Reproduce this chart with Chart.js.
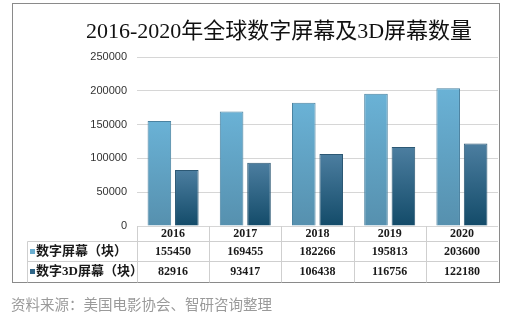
<!DOCTYPE html>
<html>
<head>
<meta charset="utf-8">
<script src="https://cdn.jsdelivr.net/npm/chart.js@4/dist/chart.umd.min.js"></script>
<style>
  html, body { margin: 0; padding: 0; background: #fff; }
  #wrap { position: relative; width: 516px; height: 322px; }
</style>
</head>
<body>
<div id="wrap"><canvas id="result" width="516" height="322"></canvas></div>
<script>
var years = ["2016", "2017", "2018", "2019", "2020"];
var screens = [155450, 169455, 182266, 195813, 203600];      // 数字屏幕（块）
var screens3d = [82916, 93417, 106438, 116756, 122180];     // 数字3D屏幕（块）
var seriesNames = ["数字屏幕（块）", "数字3D屏幕（块）"];
var yTicks = [0, 50000, 100000, 150000, 200000, 250000];

var titleText = "2016-2020年全球数字屏幕及3D屏幕数量";
var sourceText = "资料来源：美国电影协会、智研咨询整理";

// gradient per bar, from its top down to the baseline
function barGradient(top, bottom) {
    return function(context) {
        var chart = context.chart;
        if (!chart.chartArea) return top;
        var y = chart.scales.y;
        var g = chart.ctx.createLinearGradient(0, y.getPixelForValue(context.raw), 0, y.getPixelForValue(0));
        g.addColorStop(0, top);
        g.addColorStop(1, bottom);
        return g;
    };
}

var serif = "'Liberation Serif', 'Noto Sans CJK SC', serif";

// frame, title, data table and source line
var decorPlugin = {
    id: "decor",
    afterDraw: function(chart) {
        var ctx = chart.ctx;
        var area = chart.chartArea;
        var x = chart.scales.x;
        var colW = (area.right - area.left) / years.length;
        var rowTop = area.bottom, row1 = 241.5, row2 = 261.5, rowEnd = 282.5;
        ctx.save();

        // outer frame
        ctx.strokeStyle = "#8a8a8a";
        ctx.lineWidth = 1;
        ctx.strokeRect(12.5, 3.5, 487, 279);

        // title
        ctx.fillStyle = "#111";
        ctx.font = "22px " + serif;
        ctx.textAlign = "center";
        ctx.textBaseline = "alphabetic";
        ctx.fillText(titleText, 279, 38);

        // table grid
        ctx.strokeStyle = "#cfcfcf";
        ctx.beginPath();
        ctx.moveTo(27.5, row1); ctx.lineTo(area.right, row1);
        ctx.moveTo(27.5, row2); ctx.lineTo(area.right, row2);
        ctx.moveTo(27.5, row1); ctx.lineTo(27.5, rowEnd);
        for (var i = 0; i < years.length; i++) {
            var lx = Math.round(area.left + i * colW) + 0.5;
            ctx.moveTo(lx, rowTop); ctx.lineTo(lx, rowEnd);
        }
        ctx.stroke();

        // table text
        ctx.fillStyle = "#1a1a1a";
        ctx.textBaseline = "middle";
        ctx.font = "bold 12px " + serif;
        for (var j = 0; j < years.length; j++) {
            var cx = x.getPixelForValue(j);
            ctx.fillText(years[j], cx, 233.5);
            ctx.fillText(String(screens[j]), cx, 252);
            ctx.fillText(String(screens3d[j]), cx, 272);
        }

        // row labels with markers
        ctx.textAlign = "left";
        ctx.font = "bold 13px " + serif;
        ctx.fillText(seriesNames[0], 36, 252);
        ctx.fillText(seriesNames[1], 36, 272);
        ctx.fillStyle = "#6aaed0";
        ctx.fillRect(30, 249, 5, 5);
        ctx.fillStyle = "#2f6587";
        ctx.fillRect(30, 269, 5, 5);

        // source
        ctx.fillStyle = "#9a9a9a";
        ctx.font = "14.5px 'Noto Sans CJK SC', sans-serif";
        ctx.fillText(sourceText, 11, 304);
        ctx.restore();
    }
};

var ctx = document.getElementById("result").getContext("2d");
var chart = new Chart(ctx, {
    type: "bar",
    data: {
        labels: years,
        datasets: [{
            label: seriesNames[0],
            data: screens,
            backgroundColor: barGradient("#6ab2d6", "#5690ae"),
            borderColor: "#4a82a0",
            borderWidth: 1,
            categoryPercentage: 0.76,
            barPercentage: 0.86
        }, {
            label: seriesNames[1],
            data: screens3d,
            backgroundColor: barGradient("#4c7ea0", "#134b69"),
            borderColor: "#2c5874",
            borderWidth: 1,
            categoryPercentage: 0.76,
            barPercentage: 0.86
        }]
    },
    options: {
        responsive: false,
        animation: false,
        layout: { padding: { left: 12, right: 18, top: 57, bottom: 96 } },
        plugins: {
            legend: { display: false },
            tooltip: { enabled: false },
            title: { display: false }
        },
        scales: {
            x: { display: false },
            y: {
                min: 0,
                max: 250000,
                afterFit: function(scale) { scale.width = 125; },
                afterBuildTicks: function(scale) {
                    scale.ticks = yTicks.map(function(v) { return { value: v }; });
                },
                border: { display: false },
                grid: { color: "#d6d6d6", drawTicks: false },
                ticks: {
                    padding: 10,
                    color: "#333",
                    font: { family: "'Liberation Sans', sans-serif", size: 11 },
                    callback: function(value) { return String(value); }
                }
            }
        }
    },
    plugins: [decorPlugin]
});
</script>
</body>
</html>
